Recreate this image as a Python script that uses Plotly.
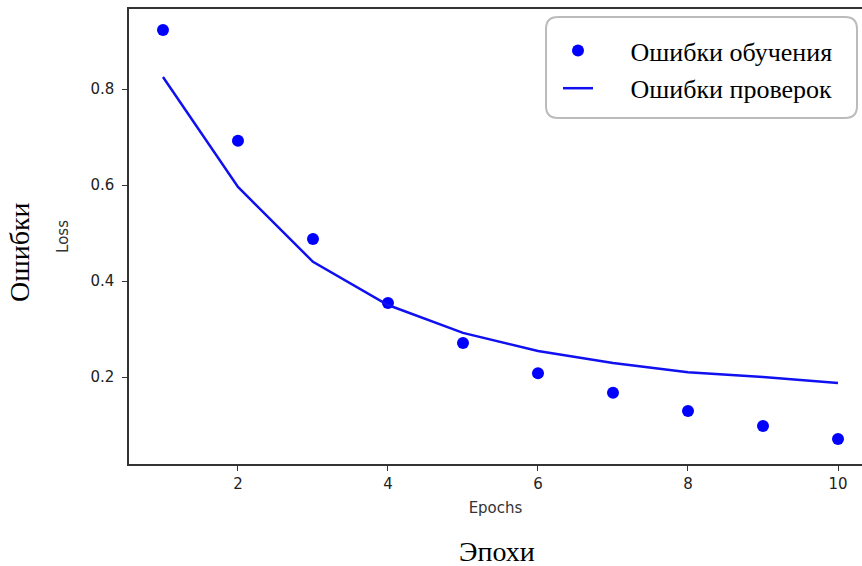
import plotly.graph_objects as go

epochs = [1, 2, 3, 4, 5, 6, 7, 8, 9, 10]
train_loss = [0.923, 0.692, 0.4875, 0.354, 0.271, 0.208, 0.167, 0.129, 0.098, 0.071]
val_loss = [0.825, 0.596, 0.440, 0.350, 0.292, 0.254, 0.229, 0.210, 0.200, 0.1875]
x_ticks = [2, 4, 6, 8, 10]
y_ticks = [0.2, 0.4, 0.6, 0.8]
series_names = ["Ошибки обучения", "Ошибки проверок"]

W, H = 862, 566
L, R, T, B = 129, 0, 9, 102
PW, PH = W - L - R, H - T - B

def px_to_paper(px, py):
    return (px - L) / PW, 1 - (py - T) / PH

def rounded_rect(x0, y0, x1, y1, r):
    def p(x, y):
        a, b = px_to_paper(x, y)
        return f"{a:.5f},{b:.5f}"
    return (
        f"M {p(x0 + r, y0)} L {p(x1 - r, y0)} "
        f"Q {p(x1, y0)} {p(x1, y0 + r)} L {p(x1, y1 - r)} "
        f"Q {p(x1, y1)} {p(x1 - r, y1)} L {p(x0 + r, y1)} "
        f"Q {p(x0, y1)} {p(x0, y1 - r)} L {p(x0, y0 + r)} "
        f"Q {p(x0, y0)} {p(x0 + r, y0)} Z"
    )

pad = "\u00a0" * 5

fig = go.Figure()
fig.add_trace(go.Scatter(
    x=epochs, y=train_loss, mode="markers", name=pad + series_names[0],
    marker=dict(color="#0000ff", size=12), legendgroup="a",
))
fig.add_trace(go.Scatter(
    x=epochs, y=val_loss, mode="lines", name=pad + series_names[1],
    line=dict(color="#1010f0", width=2.5), legendgroup="b",
))

lx, ly = px_to_paper(558, 27)
fig.update_layout(
    width=W, height=H,
    margin=dict(l=L, r=R, t=T, b=B),
    paper_bgcolor="white", plot_bgcolor="white",
    showlegend=True,
    legend=dict(
        x=lx, y=ly, xanchor="left", yanchor="top",
        font=dict(family="Liberation Serif", size=26, color="black"),
        bgcolor="rgba(0,0,0,0)", borderwidth=0,
        traceorder="grouped", tracegroupgap=1, itemwidth=30,
    ),
    xaxis=dict(
        range=[0.547, 10.32], tickvals=x_ticks, ticktext=[str(v) for v in x_ticks],
        showline=True, linecolor="#333333", linewidth=1.5, mirror=True,
        ticks="outside", ticklen=5, tickcolor="#333333", tickwidth=1.3,
        showgrid=False, zeroline=False,
        tickfont=dict(family="DejaVu Sans", size=15, color="#222222"),
        title=dict(text="Epochs", font=dict(family="DejaVu Sans", size=15, color="#333333"), standoff=11),
    ),
    yaxis=dict(
        range=[0.01875, 0.9667], tickvals=y_ticks, ticktext=[f"{v:.1f}" for v in y_ticks],
        showline=True, linecolor="#333333", linewidth=1.5, mirror=False,
        ticks="outside", ticklen=5, tickcolor="#333333", tickwidth=1.3,
        ticklabelstandoff=5,
        showgrid=False, zeroline=False,
        tickfont=dict(family="DejaVu Sans", size=15, color="#222222"),
        title=dict(text="Loss", font=dict(family="DejaVu Sans", size=15, color="#333333"), standoff=18),
    ),
    shapes=[dict(
        type="path", xref="paper", yref="paper",
        path=rounded_rect(546, 17, 857, 118, 12),
        line=dict(color="#bbbbbb", width=2), fillcolor="white", layer="below",
    )],
    annotations=[
        dict(text="Ошибки", xref="paper", yref="paper",
             x=px_to_paper(19, 252)[0], y=px_to_paper(19, 252)[1],
             textangle=-90, showarrow=False, xanchor="center", yanchor="middle",
             font=dict(family="Liberation Serif", size=28, color="black")),
        dict(text="Эпохи", xref="paper", yref="paper",
             x=px_to_paper(497, 551)[0], y=px_to_paper(497, 551)[1],
             showarrow=False, xanchor="center", yanchor="middle",
             font=dict(family="Liberation Serif", size=28, color="black")),
    ],
)

fig.write_html("out.html", config={"displayModeBar": False})
with open("out.html", "r", encoding="utf-8") as f:
    html = f.read()
html = html.replace("<body>", '<body style="margin:0;padding:0;overflow:hidden">', 1)
with open("out.html", "w", encoding="utf-8") as f:
    f.write(html)
